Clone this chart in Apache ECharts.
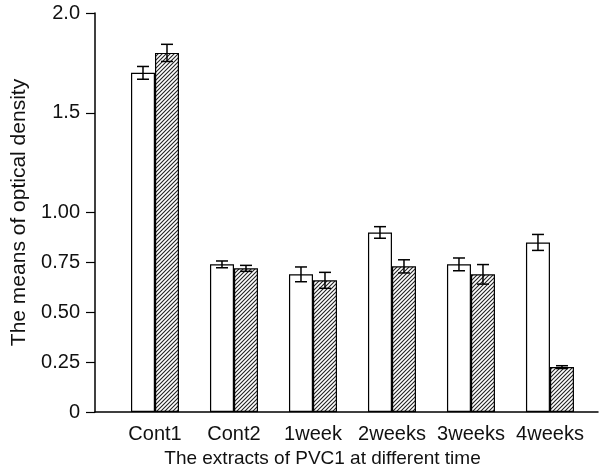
<!DOCTYPE html>
<html>
<head>
<meta charset="utf-8">
<script src="https://cdn.jsdelivr.net/npm/echarts@6/dist/echarts.min.js"></script>
<style>
  html, body { margin: 0; padding: 0; background: #fff; }
  #chart { width: 604px; height: 470px; }
</style>
</head>
<body>
<div id="chart"></div>
<script>
// Groups along the x axis
const categories = ['Cont1', 'Cont2', '1week', '2weeks', '3weeks', '4weeks'];
// Open (white) bars: means and error half-widths
const openMeans = [1.70, 0.74, 0.69, 0.90, 0.74, 0.85];
const openErr = [0.032, 0.017, 0.037, 0.029, 0.032, 0.040];
// Hatched bars: means and error half-widths
const hatchMeans = [1.80, 0.72, 0.66, 0.73, 0.69, 0.225];
const hatchErr = [0.043, 0.015, 0.040, 0.033, 0.049, 0.007];
// Y axis ticks and their labels
const yTicks = [0, 0.25, 0.5, 0.75, 1.0, 1.5, 2.0];
const yTickLabels = ['0', '0.25', '0.50', '0.75', '1.00', '1.5', '2.0'];

const FONT = '"Liberation Sans", Arial, sans-serif';
const BAR_W = 24;

// Diagonal hatch fill
function makeHatch() {
  const s = 4;
  const c = document.createElement('canvas');
  c.width = s; c.height = s;
  const g = c.getContext('2d');
  g.fillStyle = '#fff';
  g.fillRect(0, 0, s, s);
  g.strokeStyle = '#222';
  g.lineWidth = 1.1;
  g.beginPath();
  g.moveTo(-1, s + 1); g.lineTo(s + 1, -1);
  g.moveTo(-1, 1); g.lineTo(1, -1);
  g.moveTo(s - 1, s + 1); g.lineTo(s + 1, s - 1);
  g.stroke();
  return c;
}

const idx = categories.map((_, i) => i);
const openData = idx.map(i => [i, openMeans[i]]);
const hatchData = idx.map(i => [i, hatchMeans[i]]);
const openErrData = idx.map(i => [i, openMeans[i], openErr[i]]);
const hatchErrData = idx.map(i => [i, hatchMeans[i], hatchErr[i]]);

function errorBar(shift) {
  return function (params, api) {
    const x = api.value(0), m = api.value(1), e = api.value(2);
    const top = api.coord([x, m + e]);
    const bot = api.coord([x, m - e]);
    const cx = top[0] + shift;
    const hw = 6;
    const style = { stroke: '#000', lineWidth: 1.5 };
    return {
      type: 'group',
      children: [
        { type: 'line', shape: { x1: cx, y1: top[1], x2: cx, y2: bot[1] }, style },
        { type: 'line', shape: { x1: cx - hw, y1: top[1], x2: cx + hw, y2: top[1] }, style },
        { type: 'line', shape: { x1: cx - hw, y1: bot[1], x2: cx + hw, y2: bot[1] }, style }
      ]
    };
  };
}

const chart = echarts.init(document.getElementById('chart'), null, { renderer: 'canvas' });
chart.setOption({
  animation: false,
  backgroundColor: '#fff',
  grid: { left: 95, right: 6, top: 13, bottom: 58, containLabel: false, outerBoundsMode: 'none' },
  xAxis: {
    type: 'value',
    min: -0.7595,
    max: 5.608,
    splitLine: { show: false },
    axisTick: { show: false },
    axisLine: { show: true, onZero: false, lineStyle: { color: '#000', width: 1.5 } },
    axisLabel: {
      customValues: idx,
      formatter: v => categories[Math.round(v)],
      color: '#111',
      fontFamily: FONT,
      fontSize: 20,
      margin: 12
    },
    name: 'The extracts of PVC1 at different time',
    nameLocation: 'middle',
    nameGap: 34,
    nameTextStyle: { color: '#111', fontFamily: FONT, fontSize: 19, padding: [0, 48, 0, 0] }
  },
  yAxis: {
    type: 'value',
    min: 0,
    max: 2,
    interval: 0.25,
    splitLine: { show: false },
    axisLine: { show: true, onZero: false, lineStyle: { color: '#000', width: 1.5 } },
    axisTick: { show: true, customValues: yTicks, length: 9, lineStyle: { color: '#000', width: 1.2 } },
    axisLabel: {
      customValues: yTicks,
      formatter: v => {
        const k = yTicks.findIndex(t => Math.abs(t - v) < 1e-6);
        return k >= 0 ? yTickLabels[k] : '';
      },
      color: '#111',
      fontFamily: FONT,
      fontSize: 20,
      margin: 15
    },
    name: 'The means of optical density',
    nameLocation: 'middle',
    nameGap: 63,
    nameTextStyle: { color: '#111', fontFamily: FONT, fontSize: 21 }
  },
  series: [
    {
      type: 'bar',
      data: openData,
      barWidth: BAR_W,
      barGap: '0%',
      itemStyle: { color: '#fff', borderColor: '#000', borderWidth: 1.2 }
    },
    {
      type: 'bar',
      data: hatchData,
      barWidth: BAR_W,
      barGap: '0%',
      itemStyle: {
        color: { image: makeHatch(), repeat: 'repeat' },
        borderColor: '#000',
        borderWidth: 1.2
      }
    },
    {
      type: 'custom',
      data: openErrData,
      encode: { x: 0, y: 1 },
      renderItem: errorBar(-BAR_W / 2),
      z: 5
    },
    {
      type: 'custom',
      data: hatchErrData,
      encode: { x: 0, y: 1 },
      renderItem: errorBar(BAR_W / 2),
      z: 5
    }
  ]
});
</script>
</body>
</html>
